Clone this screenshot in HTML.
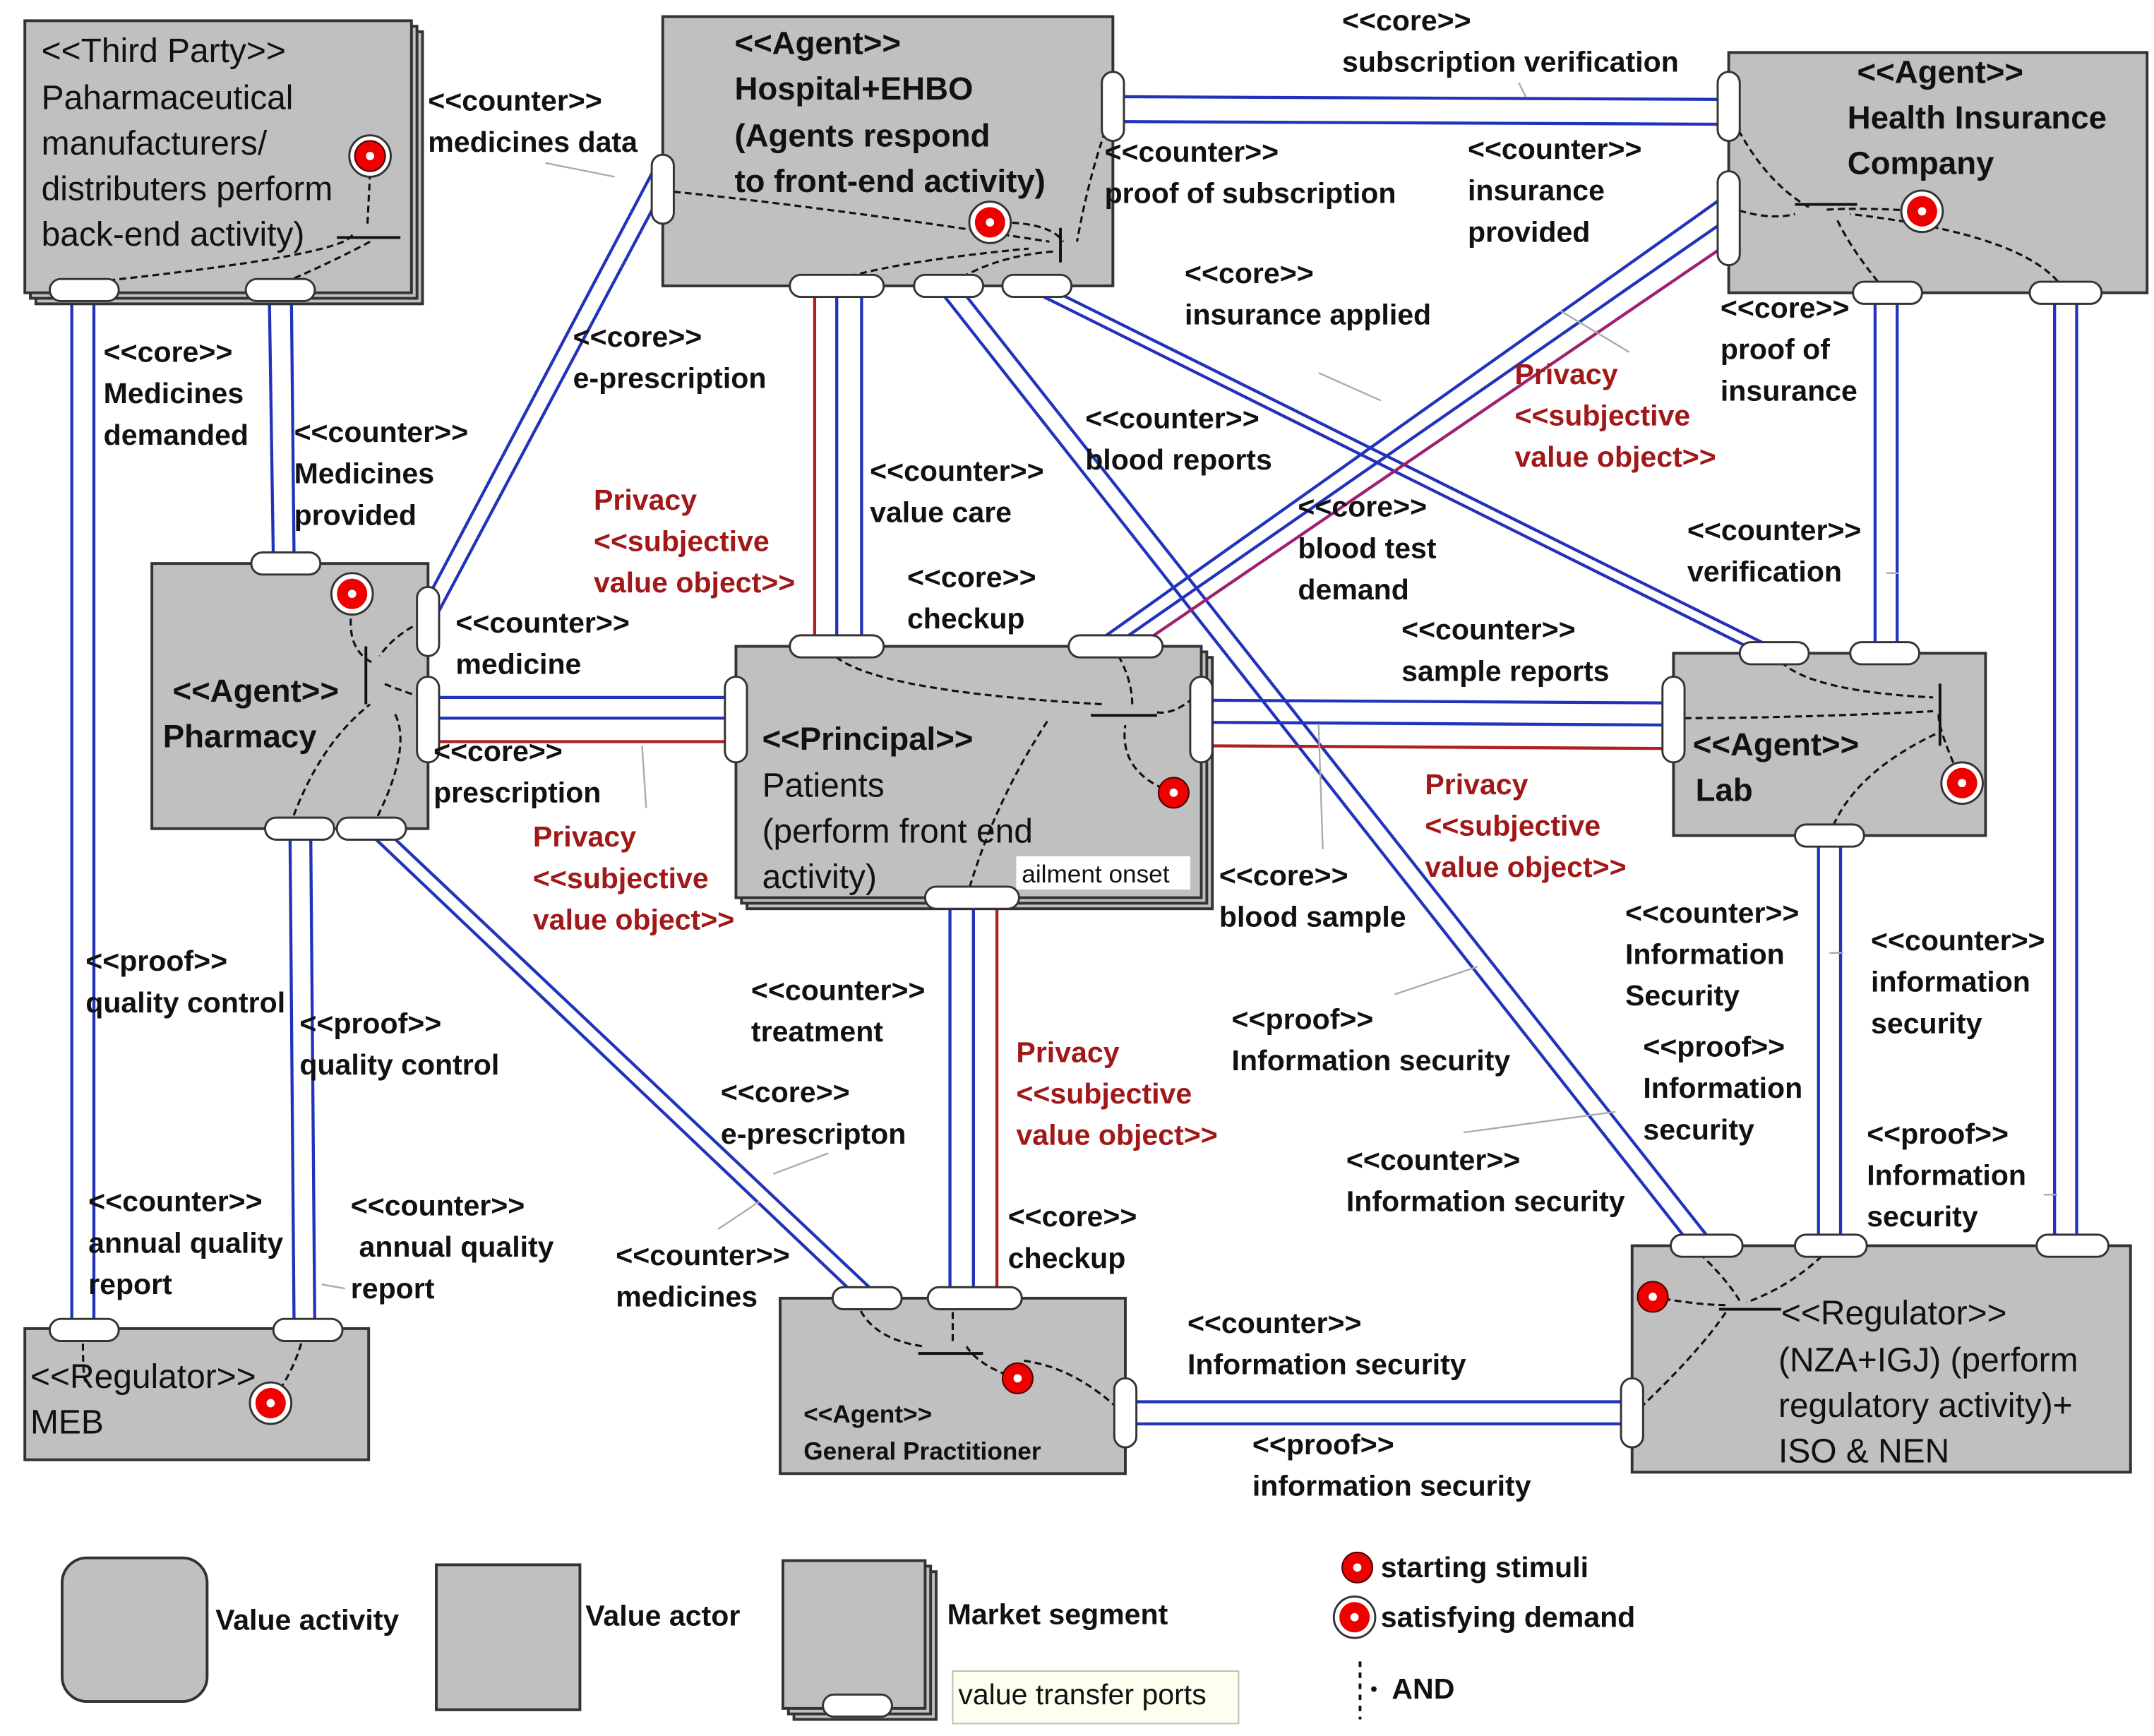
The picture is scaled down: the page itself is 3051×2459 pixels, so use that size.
<!DOCTYPE html>
<html><head><meta charset="utf-8"><style>
html,body{margin:0;padding:0;background:#fff;}
svg{display:block;}
text{font-family:"Liberation Sans",Arial,sans-serif;}
.lb{font-size:21px;font-weight:bold;fill:#111;}
.rd{font-size:21px;font-weight:bold;fill:#a01818;}
.tt{font-size:24.5px;fill:#111;}
.tb{font-size:23.3px;font-weight:bold;fill:#111;}
.b{stroke:#2233bb;stroke-width:2.2;fill:none;}
.r{stroke:#b02020;stroke-width:2.2;fill:none;}
.m{stroke:#a02070;stroke-width:2.2;fill:none;}
.d{stroke:#111;stroke-width:1.6;fill:none;stroke-dasharray:5,3;}
.g{stroke:#aaa;stroke-width:1.2;fill:none;}
.box{fill:#c0c0c0;stroke:#333;stroke-width:2;}
.port{fill:#fff;stroke:#333;stroke-width:1.5;}
</style></head><body>
<svg width="3051" height="2459" viewBox="0 0 1560 1257" preserveAspectRatio="none" xmlns="http://www.w3.org/2000/svg">
<rect width="1560" height="1257" fill="#fff"/>

<g>
<line class="b" x1="52" y1="210" x2="52" y2="963"/><line class="b" x1="68" y1="210" x2="68" y2="963"/>
<line class="b" x1="195" y1="210" x2="198" y2="408"/><line class="b" x1="211" y1="210" x2="213" y2="408"/>
<line class="b" x1="306" y1="440" x2="474" y2="122"/><line class="b" x1="316" y1="446" x2="484" y2="130"/>
<line class="b" x1="310" y1="505" x2="533" y2="505"/><line class="b" x1="310" y1="520" x2="533" y2="520"/><line class="r" x1="310" y1="537" x2="533" y2="537"/>
<line class="b" x1="210" y1="598" x2="213" y2="963"/><line class="b" x1="225" y1="598" x2="228" y2="963"/>
<line class="b" x1="262" y1="598" x2="622" y2="940"/><line class="b" x1="276" y1="598" x2="638" y2="940"/>
<line class="r" x1="590" y1="207" x2="590" y2="468"/><line class="b" x1="606" y1="207" x2="606" y2="468"/><line class="b" x1="624" y1="207" x2="624" y2="468"/>
<line class="b" x1="678" y1="207" x2="1225" y2="902"/><line class="b" x1="694" y1="207" x2="1242" y2="902"/>
<line class="b" x1="740" y1="207" x2="1275" y2="473"/><line class="b" x1="756" y1="207" x2="1292" y2="473"/>
<line class="b" x1="806" y1="70" x2="1252" y2="72"/><line class="b" x1="806" y1="88" x2="1252" y2="90"/>
<line class="b" x1="1252" y1="140" x2="790" y2="468"/><line class="b" x1="1252" y1="158" x2="806" y2="468"/><line class="m" x1="1252" y1="176" x2="824" y2="468"/>
<line class="b" x1="1358" y1="210" x2="1358" y2="473"/><line class="b" x1="1374" y1="210" x2="1374" y2="473"/>
<line class="b" x1="1488" y1="210" x2="1488" y2="902"/><line class="b" x1="1504" y1="210" x2="1504" y2="902"/>
<line class="b" x1="870" y1="507" x2="1212" y2="509"/><line class="b" x1="870" y1="523" x2="1212" y2="525"/><line class="r" x1="870" y1="540" x2="1212" y2="542"/>
<line class="b" x1="688" y1="650" x2="688" y2="940"/><line class="b" x1="705" y1="650" x2="705" y2="940"/><line class="r" x1="722" y1="650" x2="722" y2="940"/>
<line class="b" x1="1317" y1="605" x2="1317" y2="902"/><line class="b" x1="1333" y1="605" x2="1333" y2="902"/>
<line class="b" x1="815" y1="1015" x2="1182" y2="1015"/><line class="b" x1="815" y1="1031" x2="1182" y2="1031"/>
</g>

<g class="g">
<line x1="395" y1="118" x2="445" y2="128"/><line x1="1100" y1="60" x2="1105" y2="70"/>
<line x1="955" y1="270" x2="1000" y2="290"/><line x1="1130" y1="225" x2="1180" y2="255"/>
<line x1="1010" y1="720" x2="1070" y2="700"/><line x1="1060" y1="820" x2="1170" y2="805"/>
<line x1="955" y1="525" x2="958" y2="615"/><line x1="560" y1="850" x2="600" y2="835"/>
<line x1="520" y1="890" x2="550" y2="870"/><line x1="465" y1="540" x2="468" y2="585"/>
<line x1="1325" y1="690" x2="1335" y2="690"/><line x1="1375" y1="415" x2="1366" y2="415"/>
<line x1="1480" y1="865" x2="1490" y2="865"/><line x1="233" y1="930" x2="250" y2="933"/>
</g>

<rect class="box" x="26" y="23" width="280" height="197"/>
<rect class="box" x="22" y="19" width="280" height="197"/>
<rect class="box" x="18" y="15" width="280" height="197"/>
<text class="tt" x="30" y="45">&lt;&lt;Third Party&gt;&gt;</text>
<text class="tt" x="30" y="79">Paharmaceutical</text>
<text class="tt" x="30" y="112">manufacturers/</text>
<text class="tt" x="30" y="145">distributers perform</text>
<text class="tt" x="30" y="178">back-end activity)</text>

<rect class="box" x="480" y="12" width="326" height="195"/>
<text class="tb" x="532" y="39">&lt;&lt;Agent&gt;&gt;</text>
<text class="tb" x="532" y="72">Hospital+EHBO</text>
<text class="tb" x="532" y="106">(Agents respond</text>
<text class="tb" x="532" y="139">to front-end activity)</text>

<rect class="box" x="1252" y="38" width="303" height="174"/>
<text class="tb" x="1345" y="60">&lt;&lt;Agent&gt;&gt;</text>
<text class="tb" x="1338" y="93">Health Insurance</text>
<text class="tb" x="1338" y="126">Company</text>

<rect class="box" x="110" y="408" width="200" height="192"/>
<text class="tb" x="125" y="508">&lt;&lt;Agent&gt;&gt;</text>
<text class="tb" x="118" y="541">Pharmacy</text>

<rect class="box" x="541" y="476" width="337" height="182"/>
<rect class="box" x="537" y="472" width="337" height="182"/>
<rect class="box" x="533" y="468" width="337" height="182"/>
<text class="tb" x="552" y="543">&lt;&lt;Principal&gt;&gt;</text>
<text class="tt" x="552" y="577">Patients</text>
<text class="tt" x="552" y="610">(perform front end</text>
<text class="tt" x="552" y="643">activity)</text>
<rect x="736" y="620" width="126" height="24" fill="#fff"/>
<text x="740" y="639" style="font-size:18px;fill:#111">ailment onset</text>

<rect class="box" x="1212" y="473" width="226" height="132"/>
<text class="tb" x="1226" y="547">&lt;&lt;Agent&gt;&gt;</text>
<text class="tb" x="1228" y="580">Lab</text>

<rect class="box" x="18" y="962" width="249" height="95"/>
<text class="tt" x="22" y="1005">&lt;&lt;Regulator&gt;&gt;</text>
<text class="tt" x="22" y="1038">MEB</text>

<rect class="box" x="565" y="940" width="250" height="127"/>
<text x="582" y="1030" style="font-size:18px;font-weight:bold;fill:#111">&lt;&lt;Agent&gt;&gt;</text>
<text x="582" y="1057" style="font-size:18px;font-weight:bold;fill:#111">General Practitioner</text>

<rect class="box" x="1182" y="902" width="361" height="164"/>
<text class="tt" x="1290" y="959">&lt;&lt;Regulator&gt;&gt;</text>
<text class="tt" x="1288" y="993">(NZA+IGJ)    (perform</text>
<text class="tt" x="1288" y="1026">regulatory activity)+</text>
<text class="tt" x="1288" y="1059">ISO &amp; NEN</text>

<g class="d">
<path d="M268,125 L266,165 M255,170 Q250,185 60,205 M268,175 Q240,190 205,205"/>
<path d="M480,138 Q600,150 760,175 M717,161 Q760,160 770,175 M600,205 Q640,190 745,180 M690,205 Q720,185 765,182 M806,80 Q790,120 780,175"/>
<path d="M1252,80 Q1275,130 1310,150 M1392,153 Q1350,150 1320,152 M1252,150 Q1280,160 1300,155 M1365,210 Q1340,180 1330,158 M1495,210 Q1470,170 1340,155"/>
<path d="M255,440 Q250,470 270,480 M306,450 Q285,460 275,475 M306,505 Q290,500 278,495 M210,598 Q230,540 268,510 M270,598 Q300,540 285,515"/>
<path d="M600,470 Q620,500 800,510 M806,468 Q820,490 820,510 M870,500 Q850,520 835,515 M850,574 Q810,560 815,525 M700,650 Q720,580 760,520"/>
<path d="M1285,473 Q1300,500 1400,505 M1212,520 Q1300,520 1400,515 M1421,567 Q1400,520 1405,515 M1325,605 Q1340,560 1405,530"/>
<path d="M60,965 Q60,1000 62,1000 M220,965 Q215,990 196,1016"/>
<path d="M620,942 Q630,970 670,975 M690,942 Q690,960 690,972 M737,998 Q710,990 700,975 M815,1025 Q780,990 740,985"/>
<path d="M1197,939 Q1230,945 1250,945 M1225,902 Q1250,925 1260,942 M1182,1025 Q1230,980 1250,950 M1325,904 Q1300,930 1265,943"/>
</g>

<g stroke="#111" stroke-width="2">
<line x1="244" y1="172" x2="290" y2="172"/><line x1="768" y1="165" x2="768" y2="190"/>
<line x1="1300" y1="148" x2="1345" y2="148"/><line x1="265" y1="468" x2="265" y2="510"/>
<line x1="790" y1="518" x2="838" y2="518"/><line x1="1405" y1="495" x2="1405" y2="540"/>
<line x1="665" y1="980" x2="712" y2="980"/><line x1="1245" y1="948" x2="1290" y2="948"/>
</g>

<g>
<g transform="translate(268,113)"><circle r="15" fill="#fff" stroke="#333" stroke-width="1.5"/><circle r="11" fill="#e00" stroke="#400" stroke-width="1"/><circle r="3" fill="#fff"/></g>
<g transform="translate(255,430)"><circle r="15" fill="#fff" stroke="#333" stroke-width="1.5"/><circle r="11" fill="#e00"/><circle r="3" fill="#fff"/></g>
<g transform="translate(717,161)"><circle r="15" fill="#fff" stroke="#333" stroke-width="1.5"/><circle r="11" fill="#e00"/><circle r="3" fill="#fff"/></g>
<g transform="translate(1392,153)"><circle r="15" fill="#fff" stroke="#333" stroke-width="1.5"/><circle r="11" fill="#e00"/><circle r="3" fill="#fff"/></g>
<g transform="translate(850,574)"><circle r="11" fill="#e00" stroke="#400"/><circle r="3" fill="#fff"/></g>
<g transform="translate(1421,567)"><circle r="15" fill="#fff" stroke="#333" stroke-width="1.5"/><circle r="11" fill="#e00"/><circle r="3" fill="#fff"/></g>
<g transform="translate(196,1016)"><circle r="15" fill="#fff" stroke="#333" stroke-width="1.5"/><circle r="11" fill="#e00"/><circle r="3" fill="#fff"/></g>
<g transform="translate(737,998)"><circle r="11" fill="#e00" stroke="#400"/><circle r="3" fill="#fff"/></g>
<g transform="translate(1197,939)"><circle r="11" fill="#e00" stroke="#400"/><circle r="3" fill="#fff"/></g>
</g>

<g class="port">
<rect x="36" y="202" width="50" height="16" rx="8"/><rect x="178" y="202" width="50" height="16" rx="8"/>
<rect x="572" y="199" width="68" height="16" rx="8"/><rect x="662" y="199" width="50" height="16" rx="8"/><rect x="726" y="199" width="50" height="16" rx="8"/>
<rect x="1342" y="204" width="50" height="16" rx="8"/><rect x="1470" y="204" width="52" height="16" rx="8"/>
<rect x="182" y="400" width="50" height="16" rx="8"/><rect x="192" y="592" width="50" height="16" rx="8"/><rect x="244" y="592" width="50" height="16" rx="8"/>
<rect x="572" y="460" width="68" height="16" rx="8"/><rect x="774" y="460" width="68" height="16" rx="8"/>
<rect x="670" y="642" width="68" height="16" rx="8"/>
<rect x="1260" y="465" width="50" height="16" rx="8"/><rect x="1340" y="465" width="50" height="16" rx="8"/><rect x="1300" y="597" width="50" height="16" rx="8"/>
<rect x="36" y="955" width="50" height="16" rx="8"/><rect x="198" y="955" width="50" height="16" rx="8"/>
<rect x="603" y="932" width="50" height="16" rx="8"/><rect x="672" y="932" width="68" height="16" rx="8"/>
<rect x="1210" y="894" width="52" height="16" rx="8"/><rect x="1300" y="894" width="52" height="16" rx="8"/><rect x="1475" y="894" width="52" height="16" rx="8"/>
<rect x="472" y="112" width="16" height="50" rx="8"/><rect x="798" y="52" width="16" height="50" rx="8"/>
<rect x="1244" y="52" width="16" height="50" rx="8"/><rect x="1244" y="124" width="16" height="68" rx="8"/>
<rect x="302" y="425" width="16" height="50" rx="8"/><rect x="302" y="490" width="16" height="62" rx="8"/>
<rect x="525" y="490" width="16" height="62" rx="8"/><rect x="862" y="490" width="16" height="62" rx="8"/>
<rect x="1204" y="490" width="16" height="62" rx="8"/>
<rect x="807" y="998" width="16" height="50" rx="8"/><rect x="1174" y="998" width="16" height="50" rx="8"/>
</g>

<g class="lb">
<text x="972" y="22">&lt;&lt;core&gt;&gt;</text><text x="972" y="52">subscription verification</text>
<text x="310" y="80">&lt;&lt;counter&gt;&gt;</text><text x="310" y="110">medicines data</text>
<text x="800" y="117">&lt;&lt;counter&gt;&gt;</text><text x="800" y="147">proof of subscription</text>
<text x="1063" y="115">&lt;&lt;counter&gt;&gt;</text><text x="1063" y="145">insurance</text><text x="1063" y="175">provided</text>
<text x="858" y="205">&lt;&lt;core&gt;&gt;</text><text x="858" y="235">insurance applied</text>
<text x="1246" y="230">&lt;&lt;core&gt;&gt;</text><text x="1246" y="260">proof of</text><text x="1246" y="290">insurance</text>
<text x="75" y="262">&lt;&lt;core&gt;&gt;</text><text x="75" y="292">Medicines</text><text x="75" y="322">demanded</text>
<text x="415" y="251">&lt;&lt;core&gt;&gt;</text><text x="415" y="281">e-prescription</text>
<text x="213" y="320">&lt;&lt;counter&gt;&gt;</text><text x="213" y="350">Medicines</text><text x="213" y="380">provided</text>
<text x="786" y="310">&lt;&lt;counter&gt;&gt;</text><text x="786" y="340">blood reports</text>
<text x="630" y="348">&lt;&lt;counter&gt;&gt;</text><text x="630" y="378">value care</text>
<text x="940" y="374">&lt;&lt;core&gt;&gt;</text><text x="940" y="404">blood test</text><text x="940" y="434">demand</text>
<text x="1222" y="391">&lt;&lt;counter&gt;&gt;</text><text x="1222" y="421">verification</text>
<text x="657" y="425">&lt;&lt;core&gt;&gt;</text><text x="657" y="455">checkup</text>
<text x="330" y="458">&lt;&lt;counter&gt;&gt;</text><text x="330" y="488">medicine</text>
<text x="1015" y="463">&lt;&lt;counter&gt;&gt;</text><text x="1015" y="493">sample reports</text>
<text x="314" y="551">&lt;&lt;core&gt;&gt;</text><text x="314" y="581">prescription</text>
<text x="883" y="641">&lt;&lt;core&gt;&gt;</text><text x="883" y="671">blood sample</text>
<text x="1177" y="668">&lt;&lt;counter&gt;&gt;</text><text x="1177" y="698">Information</text><text x="1177" y="728">Security</text>
<text x="1355" y="688">&lt;&lt;counter&gt;&gt;</text><text x="1355" y="718">information</text><text x="1355" y="748">security</text>
<text x="62" y="703">&lt;&lt;proof&gt;&gt;</text><text x="62" y="733">quality control</text>
<text x="217" y="748">&lt;&lt;proof&gt;&gt;</text><text x="217" y="778">quality control</text>
<text x="544" y="724">&lt;&lt;counter&gt;&gt;</text><text x="544" y="754">treatment</text>
<text x="892" y="745">&lt;&lt;proof&gt;&gt;</text><text x="892" y="775">Information security</text>
<text x="1190" y="765">&lt;&lt;proof&gt;&gt;</text><text x="1190" y="795">Information</text><text x="1190" y="825">security</text>
<text x="522" y="798">&lt;&lt;core&gt;&gt;</text><text x="522" y="828">e-prescripton</text>
<text x="1352" y="828">&lt;&lt;proof&gt;&gt;</text><text x="1352" y="858">Information</text><text x="1352" y="888">security</text>
<text x="975" y="847">&lt;&lt;counter&gt;&gt;</text><text x="975" y="877">Information security</text>
<text x="64" y="877">&lt;&lt;counter&gt;&gt;</text><text x="64" y="907">annual quality</text><text x="64" y="937">report</text>
<text x="254" y="880">&lt;&lt;counter&gt;&gt;</text><text x="260" y="910">annual quality</text><text x="254" y="940">report</text>
<text x="730" y="888">&lt;&lt;core&gt;&gt;</text><text x="730" y="918">checkup</text>
<text x="446" y="916">&lt;&lt;counter&gt;&gt;</text><text x="446" y="946">medicines</text>
<text x="860" y="965">&lt;&lt;counter&gt;&gt;</text><text x="860" y="995">Information security</text>
<text x="907" y="1053">&lt;&lt;proof&gt;&gt;</text><text x="907" y="1083">information security</text>
</g>
<g class="rd">
<text x="1097" y="278">Privacy</text><text x="1097" y="308">&lt;&lt;subjective</text><text x="1097" y="338">value object&gt;&gt;</text>
<text x="430" y="369">Privacy</text><text x="430" y="399">&lt;&lt;subjective</text><text x="430" y="429">value object&gt;&gt;</text>
<text x="1032" y="575">Privacy</text><text x="1032" y="605">&lt;&lt;subjective</text><text x="1032" y="635">value object&gt;&gt;</text>
<text x="386" y="613">Privacy</text><text x="386" y="643">&lt;&lt;subjective</text><text x="386" y="673">value object&gt;&gt;</text>
<text x="736" y="769">Privacy</text><text x="736" y="799">&lt;&lt;subjective</text><text x="736" y="829">value object&gt;&gt;</text>
</g>

<rect class="box" x="45" y="1128" width="105" height="104" rx="18"/>
<text class="lb" x="156" y="1180">Value activity</text>
<rect class="box" x="316" y="1133" width="104" height="105"/>
<text class="lb" x="424" y="1177">Value actor</text>
<rect class="box" x="575" y="1138" width="103" height="107"/>
<rect class="box" x="571" y="1134" width="103" height="107"/>
<rect class="box" x="567" y="1130" width="103" height="107"/>
<rect class="port" x="596" y="1227" width="50" height="16" rx="8"/>
<text class="lb" x="686" y="1176">Market segment</text>
<rect x="690" y="1210" width="207" height="38" fill="#fffff0" stroke="#bbb"/>
<text x="694" y="1234" style="font-size:21px;fill:#111">value transfer ports</text>
<g transform="translate(983,1135)"><circle r="11" fill="#e00" stroke="#400"/><circle r="3" fill="#fff"/></g>
<text class="lb" x="1000" y="1142">starting stimuli</text>
<g transform="translate(981,1171)"><circle r="15" fill="#fff" stroke="#333" stroke-width="1.5"/><circle r="11" fill="#e00"/><circle r="3" fill="#fff"/></g>
<text class="lb" x="1000" y="1178">satisfying demand</text>
<line x1="985" y1="1203" x2="985" y2="1245" stroke="#111" stroke-width="2" stroke-dasharray="4,4"/>
<circle cx="995" cy="1223" r="2" fill="#111"/>
<text class="lb" x="1008" y="1230">AND</text>
</svg>
</body></html>
